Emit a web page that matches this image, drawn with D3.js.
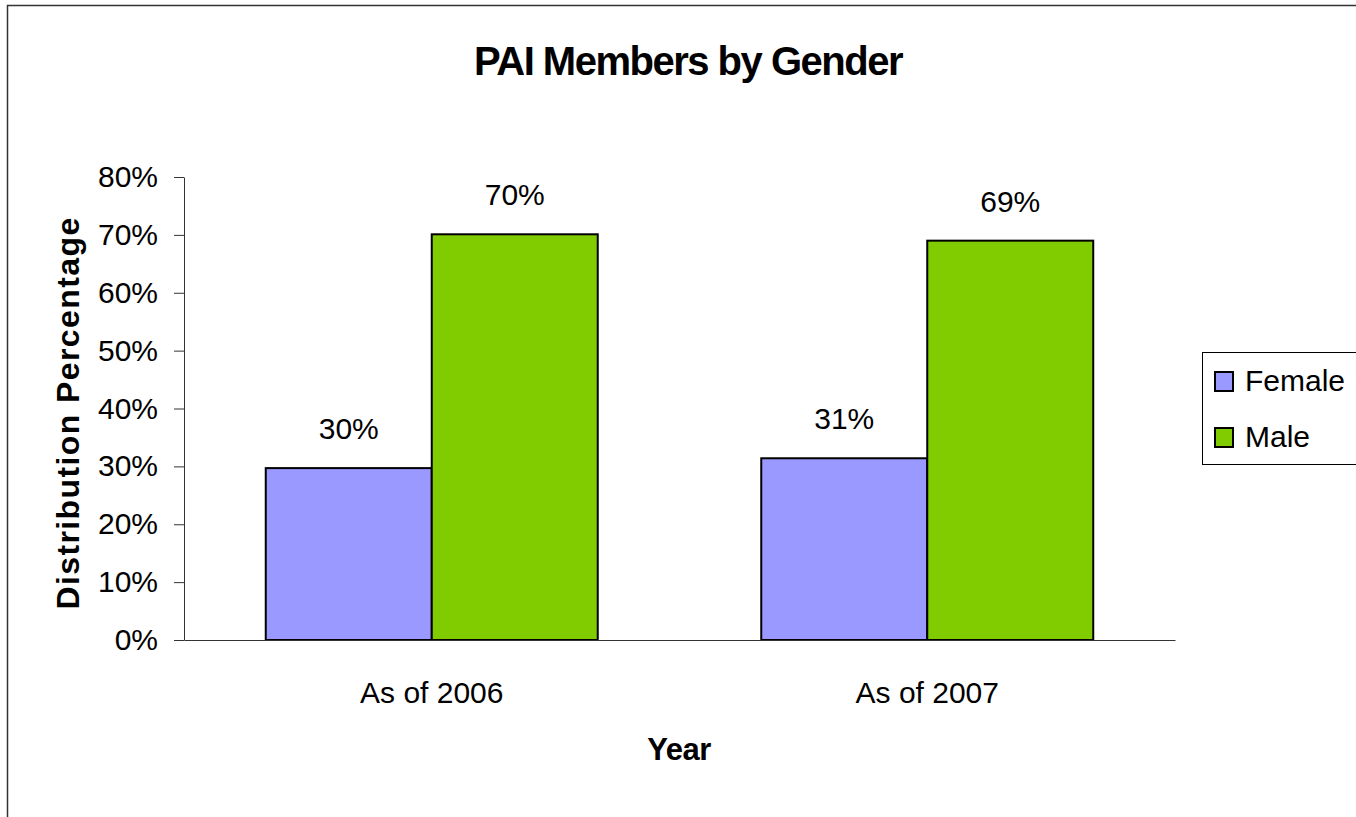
<!DOCTYPE html>
<html>
<head>
<meta charset="utf-8">
<script src="https://cdn.jsdelivr.net/npm/d3@7"></script>
<style>
  body { margin: 0; background: #fff; }
  svg { display: block; font-family: Arial, "Liberation Sans", sans-serif; }
</style>
</head>
<body>
<div id="vis"></div>
<script>
// chart data
var categories = ["As of 2006", "As of 2007"];
var series = ["Female", "Male"];
var female = [0.297, 0.314];
var male = [0.701, 0.690];
var yTicks = [0, 0.1, 0.2, 0.3, 0.4, 0.5, 0.6, 0.7, 0.8];
var colors = ["#9999ff", "#80cc00"];

var data = categories.map(function(c, i) {
  return { cat: c, values: [female[i], male[i]] };
});

var W = 1356, H = 817;
var svg = d3.select("#vis").append("svg")
  .attr("width", W)
  .attr("height", H);

// outer chart border (cut off on right and bottom)
svg.append("rect")
  .attr("x", 7.5).attr("y", 5.5)
  .attr("width", 1500).attr("height", 1000)
  .attr("fill", "none")
  .attr("stroke", "#333")
  .attr("stroke-width", 1.5);

var plot = { left: 184, right: 1175, top: 177, bottom: 640 };

var x0 = d3.scaleBand()
  .domain(categories)
  .range([plot.left, plot.right])
  .padding(0);

var gap = x0.bandwidth() * 0.165;
var x1 = d3.scaleBand()
  .domain(series)
  .range([gap, x0.bandwidth() - gap]);

var y = d3.scaleLinear()
  .domain([0, 0.8])
  .range([plot.bottom, plot.top]);

var pct = d3.format(".0%");

// y axis
var yAxis = svg.append("g")
  .attr("transform", "translate(" + plot.left + ",0)")
  .call(d3.axisLeft(y).tickValues(yTicks).tickFormat(pct)
    .tickSize(10).tickSizeOuter(0).tickPadding(16));
yAxis.select(".domain").attr("stroke", "#333");
yAxis.selectAll(".tick line").attr("stroke", "#333");
yAxis.selectAll("text")
  .attr("font-size", 30)
  .attr("font-family", "Arial, 'Liberation Sans', sans-serif")
  .attr("fill", "#000");

// bars
var groups = svg.append("g")
  .selectAll("g")
  .data(data)
  .enter().append("g")
  .attr("transform", function(d) { return "translate(" + x0(d.cat) + ",0)"; });

groups.selectAll("rect")
  .data(function(d) { return d.values.map(function(v, i) { return { key: series[i], value: v }; }); })
  .enter().append("rect")
    .attr("x", function(d) { return x1(d.key); })
    .attr("y", function(d) { return y(d.value); })
    .attr("width", x1.bandwidth())
    .attr("height", function(d) { return y(0) - y(d.value); })
    .attr("fill", function(d, i) { return colors[i]; })
    .attr("stroke", "#000")
    .attr("stroke-width", 2);

groups.selectAll("text.lbl")
  .data(function(d) { return d.values.map(function(v, i) { return { key: series[i], value: v }; }); })
  .enter().append("text")
    .attr("class", "lbl")
    .attr("x", function(d) { return x1(d.key) + x1.bandwidth() / 2; })
    .attr("y", function(d) { return y(d.value) - 29; })
    .attr("text-anchor", "middle")
    .attr("font-size", 30)
    .text(function(d) { return pct(d.value); });

// x axis
var xAxis = svg.append("g")
  .attr("transform", "translate(0," + plot.bottom + ")")
  .call(d3.axisBottom(x0).tickSize(0).tickSizeOuter(0).tickPadding(42));
xAxis.select(".domain").attr("stroke", "#333");
xAxis.selectAll("text")
  .attr("font-size", 30)
  .attr("font-family", "Arial, 'Liberation Sans', sans-serif")
  .attr("fill", "#000");

// titles
svg.append("text")
  .attr("x", 688).attr("y", 75)
  .attr("text-anchor", "middle")
  .attr("font-size", 40)
  .attr("font-weight", "bold")
  .attr("letter-spacing", -1.5)
  .text("PAI Members by Gender");

svg.append("text")
  .attr("x", 679).attr("y", 760)
  .attr("text-anchor", "middle")
  .attr("font-size", 31)
  .attr("font-weight", "bold")
  .attr("letter-spacing", -0.5)
  .text("Year");

svg.append("text")
  .attr("transform", "translate(79,413) rotate(-90)")
  .attr("text-anchor", "middle")
  .attr("font-size", 32)
  .attr("font-weight", "bold")
  .attr("letter-spacing", 1.4)
  .text("Distribution Percentage");

// legend
var legend = svg.append("g");
legend.append("rect")
  .attr("x", 1202.5).attr("y", 352.5)
  .attr("width", 200).attr("height", 112)
  .attr("fill", "#fff")
  .attr("stroke", "#000")
  .attr("stroke-width", 1);

var item = legend.selectAll("g.item")
  .data(series)
  .enter().append("g")
  .attr("class", "item")
  .attr("transform", function(d, i) { return "translate(1215," + (372 + i * 56) + ")"; });

item.append("rect")
  .attr("width", 18).attr("height", 19)
  .attr("fill", function(d, i) { return colors[i]; })
  .attr("stroke", "#000")
  .attr("stroke-width", 2);

item.append("text")
  .attr("x", 30).attr("y", 19)
  .attr("font-size", 30)
  .text(function(d) { return d; });
</script>
</body>
</html>
